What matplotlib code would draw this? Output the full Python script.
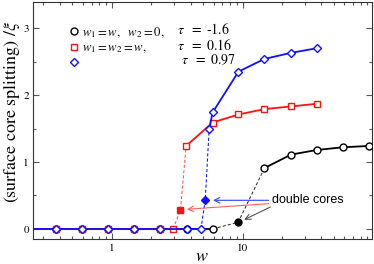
import matplotlib
matplotlib.use("Agg")
import matplotlib.pyplot as plt
from matplotlib.lines import Line2D
from matplotlib import ticker

plt.rcParams['font.family'] = ['STIXGeneral', 'DejaVu Serif']
plt.rcParams['mathtext.fontset'] = 'stix'

# ---- data ----
w_zero = [0.235, 0.373, 0.59, 0.935, 1.48, 2.35]

# tau = -1.6  (w1 = w, w2 = 0)
blk_solid0_w = w_zero + [3.73, 5.9]
blk_solid0_y = [0, 0, 0, 0, 0, 0, 0, 0]
blk_dash_w = [5.9, 9.25, 14.7]
blk_dash_y = [0.0, 0.10, 0.91]
blk_solid1_w = [14.7, 23.4, 37.0, 58.5, 93.0]
blk_solid1_y = [0.91, 1.11, 1.18, 1.22, 1.24]

# tau = 0.16  (w1 = w2 = w)
red_solid0_w = w_zero + [2.94]
red_solid0_y = [0, 0, 0, 0, 0, 0, 0]
red_dash_w = [2.94, 3.35, 3.70]
red_dash_y = [0.0, 0.28, 1.24]
red_solid1_w = [3.70, 5.9, 9.3, 14.7, 23.4, 37.0]
red_solid1_y = [1.24, 1.59, 1.71, 1.79, 1.83, 1.87]

# tau = 0.97
blu_solid0_w = w_zero + [3.73, 4.80]
blu_solid0_y = [0, 0, 0, 0, 0, 0, 0, 0]
blu_dash_w = [4.80, 5.18, 5.55]
blu_dash_y = [0.0, 0.43, 1.49]
blu_solid1_w = [5.55, 5.9, 9.3, 14.7, 23.4, 37.0]
blu_solid1_y = [1.49, 1.74, 2.35, 2.54, 2.63, 2.70]

legend_labels = [r"$w_1 = w,\ \ w_2 = 0,$", r"$w_1 = w_2 = w,$", ""]
tau_labels = [r"$\tau\ \ = $ -1.6", r"$\tau\ \ = $ 0.16", r"$\tau\ \ = $ 0.97"]

BLUE = '#1010ff'
RED = '#ff1010'
BLACK = '#000000'

fig = plt.figure(figsize=(3.74, 2.64), dpi=100)
ax = fig.add_axes([33/374, 1-239/264, (372-33)/374, (239-2)/264])
ax.set_xscale('log')

lw = 1.3
ms_c, ms_s, ms_d = 5.0, 4.6, 4.3
mew = 1.0

# black
ax.plot(blk_solid0_w, blk_solid0_y, '-', color=BLACK, lw=lw, marker='o', ms=ms_c,
        mfc='white', mec=BLACK, mew=mew, zorder=3)
ax.plot(blk_dash_w, blk_dash_y, '--', color='#333333', lw=0.75, dashes=(3, 2), zorder=2)
ax.plot(blk_dash_w[1:2], blk_dash_y[1:2], 'o', ms=ms_c, color=BLACK, zorder=4)
ax.plot(blk_solid1_w, blk_solid1_y, '-', color=BLACK, lw=lw, marker='o', ms=ms_c,
        mfc='white', mec=BLACK, mew=mew, zorder=3)

# red
ax.plot(red_solid0_w, red_solid0_y, '-', color=RED, lw=lw, marker='s', ms=ms_s,
        mfc='white', mec=RED, mew=mew, zorder=4)
ax.plot(red_dash_w, red_dash_y, '--', color='#ff5050', lw=0.75, dashes=(3, 2), zorder=2)
ax.plot(red_dash_w[1:2], red_dash_y[1:2], 's', ms=ms_s, color=RED, zorder=5)
ax.plot(red_solid1_w, red_solid1_y, '-', color=RED, lw=lw, marker='s', ms=ms_s,
        mfc='white', mec=RED, mew=mew, zorder=4)

# blue
ax.plot(blu_solid0_w, blu_solid0_y, '-', color=BLUE, lw=lw, marker='D', ms=ms_d,
        mfc='white', mec=BLUE, mew=mew, zorder=5)
ax.plot(blu_dash_w, blu_dash_y, '--', color=BLUE, lw=0.75, dashes=(3, 2), zorder=2)
ax.plot(blu_dash_w[1:2], blu_dash_y[1:2], 'D', ms=ms_d, color=BLUE, zorder=6)
ax.plot(blu_solid1_w, blu_solid1_y, '-', color=BLUE, lw=lw, marker='D', ms=ms_d,
        mfc='white', mec=BLUE, mew=mew, zorder=5)

ax.set_xlim(0.25, 97.5)
ax.set_ylim(-0.15, 3.39)

ax.xaxis.set_major_locator(ticker.FixedLocator([1, 10]))
ax.xaxis.set_major_formatter(ticker.FixedFormatter(['1', '10']))
ax.xaxis.set_minor_locator(ticker.LogLocator(base=10, subs=range(2, 10)))
ax.xaxis.set_minor_formatter(ticker.NullFormatter())
ax.yaxis.set_major_locator(ticker.FixedLocator([0, 1, 2, 3]))
ax.yaxis.set_minor_locator(ticker.MultipleLocator(0.5))

ax.tick_params(which='both', direction='in', top=True, right=True, labelsize=8,
               color='#555555', width=0.8)
ax.tick_params(which='major', length=4.5, pad=3)
ax.tick_params(which='minor', length=2.5)
for s in ax.spines.values():
    s.set_linewidth(0.8)
    s.set_color('#333333')

ax.set_xlabel(r"$w$", fontsize=13)
ax.xaxis.set_label_coords(0.497, -0.042)
ax.set_ylabel(r"(surface core splitting) /$\xi$", fontsize=13)
ax.yaxis.set_label_coords(-0.033, 0.535)

# legend
handles = [Line2D([], [], ls='none', marker='o', ms=ms_c, mfc='white', mec=BLACK, mew=mew),
           Line2D([], [], ls='none', marker='s', ms=ms_s, mfc='white', mec=RED, mew=mew),
           Line2D([], [], ls='none', marker='D', ms=ms_d, mfc='white', mec=BLUE, mew=mew)]
leg = ax.legend(handles, legend_labels, loc='upper left', bbox_to_anchor=(0.097, 0.925),
                frameon=False, fontsize=9.2, handlelength=0.5, handletextpad=0.35,
                labelspacing=0.2, borderaxespad=0)
for lab, (x, y) in zip(tau_labels, [(177, 29), (177, 45), (181, 60)]):
    fig.text(x/374, 1-y/264, lab, fontsize=10, va='center', ha='left')

# annotations
ax.text(16.8, 0.43, "double cores", fontsize=9, family=['Liberation Sans', 'DejaVu Sans'],
        ha='left', va='center')
ax.annotate("", xy=(5.95, 0.428), xytext=(15.8, 0.428),
            arrowprops=dict(arrowstyle='->', color='#3040ff', lw=0.8, shrinkA=0, shrinkB=0))
ax.annotate("", xy=(3.75, 0.294), xytext=(15.8, 0.378),
            arrowprops=dict(arrowstyle='->', color='#ff6060', lw=0.8, shrinkA=0, shrinkB=0))
ax.annotate("", xy=(10.3, 0.139), xytext=(16.3, 0.328),
            arrowprops=dict(arrowstyle='->', color='#444444', lw=0.7, shrinkA=0, shrinkB=0))

fig.savefig("out.png", dpi=100)
